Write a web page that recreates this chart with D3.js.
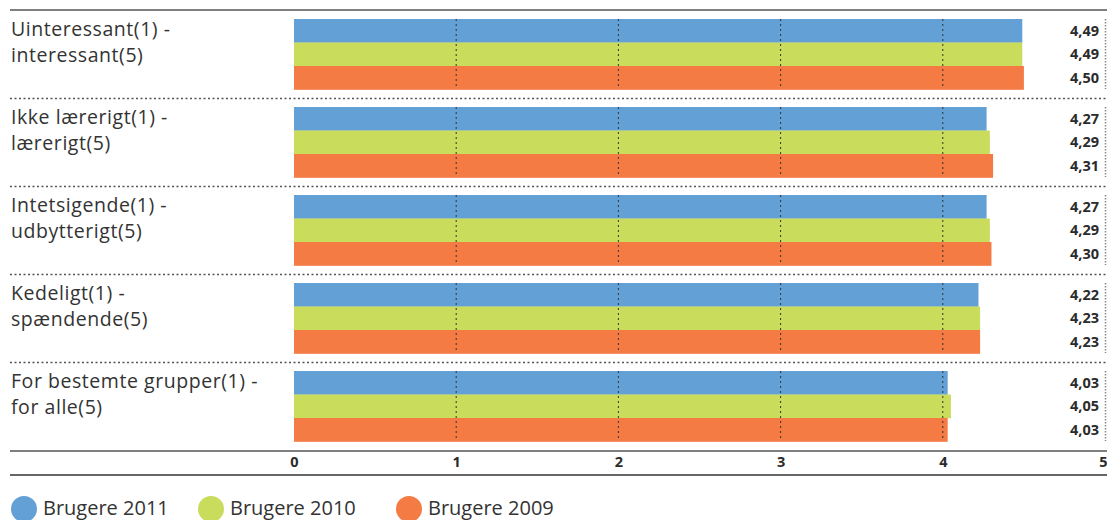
<!DOCTYPE html>
<html>
<head>
<meta charset="utf-8">
<script src="https://cdn.jsdelivr.net/npm/d3@7"></script>
<style>
  html, body { margin: 0; padding: 0; background: #fff; }
  svg { display: block; font-family: "Open Sans", "Noto Sans", sans-serif; }
</style>
</head>
<body>
<svg id="chart" width="1107" height="520"></svg>
<script>
// Category labels (two lines each)
const categories = [
  ["Uinteressant(1) -", "interessant(5)"],
  ["Ikke lærerigt(1) -", "lærerigt(5)"],
  ["Intetsigende(1) -", "udbytterigt(5)"],
  ["Kedeligt(1) -", "spændende(5)"],
  ["For bestemte grupper(1) -", "for alle(5)"]
];
const seriesNames = ["Brugere 2011", "Brugere 2010", "Brugere 2009"];
const values2011 = [4.49, 4.27, 4.27, 4.22, 4.03];
const values2010 = [4.49, 4.29, 4.29, 4.23, 4.05];
const values2009 = [4.50, 4.31, 4.30, 4.23, 4.03];
const tickValues = [0, 1, 2, 3, 4, 5];
const colors = ["#62a0d6", "#c9dc5c", "#f47b44"];

const series = [values2011, values2010, values2009];
const fmt = v => d3.format(".2f")(v).replace(".", ",");

const svg = d3.select("#chart");
const left = 10, right = 1107;

const x = d3.scaleLinear().domain([0, 5]).range([294, 1105]);
const yGroup = d3.scaleBand().domain(d3.range(categories.length)).range([10, 450]);
// bars within a group
const yBar = d3.scaleBand().domain(d3.range(series.length)).range([0, 70.5]);
const barOffset = 9;

// top rule
svg.append("line").attr("x1", left).attr("x2", right).attr("y1", 10).attr("y2", 10)
  .attr("stroke", "#555").attr("stroke-width", 1.5);

const groups = svg.selectAll("g.grp").data(categories).join("g")
  .attr("class", "grp")
  .attr("transform", (d, i) => `translate(0,${yGroup(i)})`);

groups.each(function(cat, gi) {
  const g = d3.select(this);
  series.forEach((vals, si) => {
    g.append("rect")
      .attr("x", x(0))
      .attr("y", barOffset + yBar(si))
      .attr("width", x(vals[gi]) - x(0))
      .attr("height", yBar.bandwidth() + 0.3)
      .attr("fill", colors[si]);
    g.append("text")
      .attr("x", 1099)
      .attr("y", barOffset + yBar(si) + yBar.bandwidth() / 2)
      .attr("dy", "0.36em")
      .attr("text-anchor", "end")
      .attr("font-size", 14.5)
      .attr("font-weight", 700)
      .attr("fill", "#2b2b2b")
      .text(fmt(vals[gi]));
  });
  // gridlines drawn over the bars
  [1, 2, 3, 4].forEach(t => {
    g.append("line")
      .attr("x1", x(t)).attr("x2", x(t))
      .attr("y1", barOffset).attr("y2", barOffset + 70)
      .attr("stroke", "#333").attr("stroke-width", 1)
      .attr("stroke-dasharray", "2,3");
  });
  // right-edge dotted marker
  g.append("line")
    .attr("x1", 1105.5).attr("x2", 1105.5)
    .attr("y1", barOffset).attr("y2", barOffset + 70)
    .attr("stroke", "#888").attr("stroke-width", 1.5)
    .attr("stroke-dasharray", "1.5,1.5");
  // category label, one text per line
  cat.forEach((line, li) => {
    g.append("text")
      .attr("x", 11)
      .attr("y", 25.5 + li * 26.5)
      .attr("font-size", 19.5)
      .attr("letter-spacing", 0.55)
      .attr("fill", "#333")
      .text(line);
  });
  // dotted separator below the group
  if (gi < categories.length - 1) {
    g.append("line")
      .attr("x1", left).attr("x2", right)
      .attr("y1", 88.5).attr("y2", 88.5)
      .attr("stroke", "#555").attr("stroke-width", 1.3)
      .attr("stroke-dasharray", "2,2.5");
  }
});

// axis frame lines
svg.append("line").attr("x1", left).attr("x2", right).attr("y1", 451).attr("y2", 451)
  .attr("stroke", "#555").attr("stroke-width", 1.5);
svg.append("line").attr("x1", left).attr("x2", right).attr("y1", 475).attr("y2", 475)
  .attr("stroke", "#333").attr("stroke-width", 1.5);

const axis = d3.axisBottom(x).tickValues(tickValues).tickSize(0).tickPadding(0).tickFormat(d3.format("d"));
const ax = svg.append("g").attr("transform", "translate(0,456)").call(axis);
ax.select(".domain").remove();
ax.selectAll("text")
  .attr("font-size", 14.5)
  .attr("font-weight", 700)
  .attr("fill", "#2b2b2b")
  .attr("font-family", "'Open Sans', sans-serif")
  .attr("dy", "0.75em")
  .attr("text-anchor", d => d === 5 ? "end" : "middle")
  .attr("dx", d => d === 5 ? 2 : 0);

// legend
const legendX = [24, 211, 409];
const lg = svg.selectAll("g.lg").data(seriesNames).join("g")
  .attr("class", "lg")
  .attr("transform", (d, i) => `translate(${legendX[i]},509)`);
lg.append("circle").attr("r", 13).attr("fill", (d, i) => colors[i]);
lg.append("text")
  .attr("x", 19)
  .attr("y", 6)
  .attr("font-size", 20)
  .attr("fill", "#333")
  .text(d => d);
</script>
</body>
</html>
